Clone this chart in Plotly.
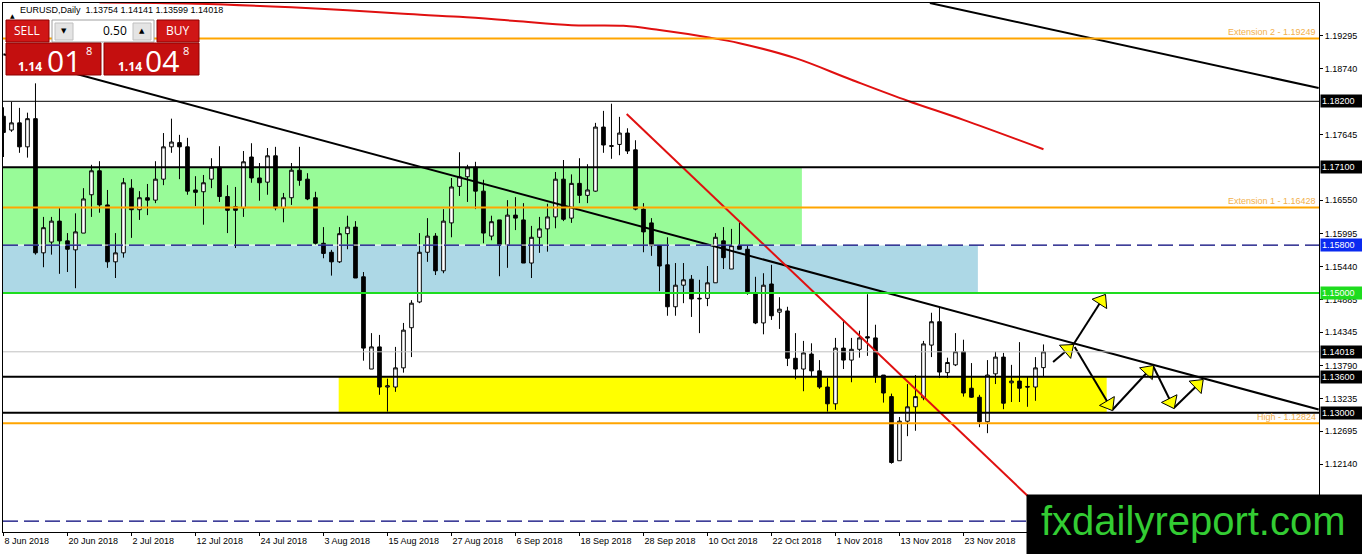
import plotly.graph_objects as go

# EURUSD daily, bar 0 = 8 Jun 2018 ... bar 130 = 7 Dec 2018
opens = [1.1795, 1.1772, 1.1784, 1.1744, 1.1791, 1.1567, 1.1585, 1.1620, 1.1587, 1.1572,
         1.1600, 1.1664, 1.1704, 1.1647, 1.1552, 1.1567, 1.1675, 1.1639, 1.1659, 1.1655,
         1.1690, 1.1744, 1.1751, 1.1744, 1.1672, 1.1669, 1.1690, 1.1710, 1.1661, 1.1644,
         1.1642, 1.1727, 1.1692, 1.1685, 1.1729, 1.1642, 1.1659, 1.1705, 1.1690, 1.1659,
         1.1583, 1.1568, 1.1552, 1.1599, 1.1610, 1.1527, 1.1373, 1.1410, 1.1343, 1.1343,
         1.1375, 1.1442, 1.1485, 1.1568, 1.1595, 1.1537, 1.1617, 1.1678, 1.1694, 1.1710,
         1.1670, 1.1595, 1.1622, 1.1580, 1.1630, 1.1622, 1.1550, 1.1593, 1.1607, 1.1627,
         1.1690, 1.1625, 1.1683, 1.1663, 1.1670, 1.1777, 1.1746, 1.1748, 1.1767, 1.1739,
         1.1640, 1.1617, 1.1579, 1.1547, 1.1477, 1.1513, 1.1523, 1.1490, 1.1491, 1.1517,
         1.1587, 1.1540, 1.1579, 1.1573, 1.1500, 1.1450, 1.1515, 1.1468, 1.1470, 1.1391,
         1.1373, 1.1398, 1.1370, 1.1343, 1.1315, 1.1408, 1.1388, 1.1406, 1.1427, 1.1425,
         1.1363, 1.1327, 1.1220, 1.1286, 1.1310, 1.1325, 1.1413, 1.1452, 1.1367, 1.1380,
         1.1402, 1.1341, 1.1326, 1.1285, 1.1365, 1.1393, 1.1350, 1.1353, 1.1344, 1.1343,
         1.13754]
highs = [1.1810, 1.1819, 1.1809, 1.1801, 1.1850, 1.1627, 1.1627, 1.1642, 1.1600, 1.1633,
         1.1675, 1.1714, 1.1720, 1.1672, 1.1600, 1.1692, 1.1690, 1.1670, 1.1682, 1.1720,
         1.1767, 1.1791, 1.1764, 1.1759, 1.1695, 1.1697, 1.1725, 1.1745, 1.1680, 1.1677,
         1.1737, 1.1750, 1.1717, 1.1742, 1.1744, 1.1667, 1.1717, 1.1744, 1.1700, 1.1669,
         1.1610, 1.1572, 1.1610, 1.1629, 1.1620, 1.1535, 1.1433, 1.1430, 1.1357, 1.1410,
         1.1450, 1.1488, 1.1600, 1.1625, 1.1600, 1.1640, 1.1692, 1.1735, 1.1714, 1.1719,
         1.1689, 1.1629, 1.1622, 1.1655, 1.1660, 1.1650, 1.1612, 1.1627, 1.1649, 1.1702,
         1.1722, 1.1698, 1.1725, 1.1715, 1.1784, 1.1804, 1.1816, 1.1794, 1.1775, 1.1755,
         1.1650, 1.1625, 1.1580, 1.1593, 1.1550, 1.1550, 1.1530, 1.1522, 1.1545, 1.1600,
         1.1610, 1.1607, 1.1618, 1.1579, 1.1527, 1.1533, 1.1547, 1.1493, 1.1477, 1.1433,
         1.1420, 1.1416, 1.1388, 1.1358, 1.1425, 1.1455, 1.1425, 1.1437, 1.1498, 1.1447,
         1.1363, 1.1332, 1.1293, 1.1348, 1.1363, 1.1420, 1.1467, 1.1475, 1.1392, 1.1433,
         1.1422, 1.1383, 1.1330, 1.1388, 1.1402, 1.1400, 1.1380, 1.1418, 1.1360, 1.1393,
         1.14141]
lows = [1.1727, 1.1769, 1.1734, 1.1726, 1.1564, 1.1543, 1.1564, 1.1532, 1.1535, 1.1508,
        1.1600, 1.1627, 1.1634, 1.1542, 1.1525, 1.1559, 1.1592, 1.1622, 1.1630, 1.1650,
        1.1680, 1.1734, 1.1690, 1.1664, 1.1645, 1.1614, 1.1675, 1.1652, 1.1600, 1.1575,
        1.1627, 1.1684, 1.1654, 1.1664, 1.1638, 1.1618, 1.1647, 1.1679, 1.1655, 1.1580,
        1.1558, 1.1529, 1.1550, 1.1573, 1.1525, 1.1387, 1.1373, 1.1330, 1.1302, 1.1335,
        1.1367, 1.1393, 1.1483, 1.1552, 1.1530, 1.1533, 1.1593, 1.1662, 1.1652, 1.1640,
        1.1583, 1.1588, 1.1528, 1.1542, 1.1605, 1.1550, 1.1525, 1.1567, 1.1569, 1.1608,
        1.1620, 1.1617, 1.1650, 1.1650, 1.1669, 1.1734, 1.1724, 1.1730, 1.1732, 1.1638,
        1.1568, 1.1562, 1.1503, 1.1462, 1.1462, 1.1483, 1.1460, 1.1433, 1.1478, 1.1517,
        1.1540, 1.1540, 1.1573, 1.1497, 1.1448, 1.1431, 1.1455, 1.1440, 1.1378, 1.1356,
        1.1336, 1.1360, 1.1340, 1.1302, 1.1305, 1.1373, 1.1351, 1.1392, 1.1395, 1.1350,
        1.1317, 1.1215, 1.1220, 1.1261, 1.1270, 1.1321, 1.1393, 1.1358, 1.1358, 1.1378,
        1.1327, 1.1325, 1.1276, 1.1266, 1.1348, 1.1306, 1.1318, 1.1318, 1.1310, 1.1320,
        1.13599]
closes = [1.1768, 1.1784, 1.1744, 1.1791, 1.1567, 1.1609, 1.1620, 1.1587, 1.1573, 1.1602,
          1.1657, 1.1704, 1.1647, 1.1552, 1.1567, 1.1684, 1.1639, 1.1659, 1.1655, 1.1690,
          1.1744, 1.1752, 1.1744, 1.1670, 1.1668, 1.1684, 1.1710, 1.1661, 1.1638, 1.1638,
          1.1719, 1.1692, 1.1684, 1.1729, 1.1642, 1.1659, 1.1705, 1.1688, 1.1657, 1.1583,
          1.1566, 1.1552, 1.1599, 1.1610, 1.1525, 1.1408, 1.1410, 1.1343, 1.1345, 1.1375,
          1.1438, 1.1483, 1.1568, 1.1595, 1.1537, 1.1620, 1.1677, 1.1694, 1.1709, 1.1670,
          1.1600, 1.1619, 1.1580, 1.1630, 1.1625, 1.1550, 1.1593, 1.1607, 1.1627, 1.1690,
          1.1623, 1.1683, 1.1663, 1.1672, 1.1777, 1.1747, 1.1745, 1.1767, 1.1737, 1.1640,
          1.1602, 1.1579, 1.1545, 1.1477, 1.1513, 1.1522, 1.1490, 1.1491, 1.1517, 1.1593,
          1.1559, 1.1579, 1.1573, 1.1502, 1.1450, 1.1513, 1.1462, 1.1473, 1.1391, 1.1373,
          1.1400, 1.1370, 1.1343, 1.1315, 1.1408, 1.1388, 1.1406, 1.1425, 1.1425, 1.1360,
          1.1333, 1.1217, 1.1286, 1.1310, 1.1327, 1.1415, 1.1452, 1.1368, 1.1384, 1.1402,
          1.1333, 1.1326, 1.1285, 1.1363, 1.1393, 1.1316, 1.1353, 1.1341, 1.1343, 1.1375,
          1.14018]

date_tick_bars = [0, 8, 16, 24, 32, 40, 48, 56, 64, 72, 80, 88, 96, 104, 112, 120]
date_tick_text = ['8 Jun 2018', '20 Jun 2018', '2 Jul 2018', '12 Jul 2018', '24 Jul 2018',
                  '3 Aug 2018', '15 Aug 2018', '27 Aug 2018', '6 Sep 2018', '18 Sep 2018',
                  '28 Sep 2018', '10 Oct 2018', '22 Oct 2018', '1 Nov 2018', '13 Nov 2018',
                  '23 Nov 2018']
price_ticks = [1.19295, 1.18740, 1.17645, 1.16550, 1.15995, 1.15440, 1.14885,
               1.14345, 1.13790, 1.13235, 1.12695, 1.12140, 1.11585]

# moving average (red curve)
ma_bars = [12, 24, 36, 43, 50, 57, 64, 71, 77.5, 82, 88, 92, 99, 106, 113, 120, 130]
ma_values = [1.1985, 1.1983, 1.1977, 1.1972, 1.1966, 1.1961, 1.1954, 1.1947, 1.1946,
             1.1939, 1.1927, 1.1917, 1.1892, 1.1856, 1.1821, 1.1789, 1.1740]

# drawn objects
trend_main_bars, trend_main_prices = [0, 164.4], [1.18985, 1.13055]
trend_top_bars, trend_top_prices = [115.8, 164.4], [1.19841, 1.18422]
trend_red_bars, trend_red_prices = [77.9, 128.3], [1.17988, 1.11577]

zone_green = (-1, 99.8, 1.15800, 1.17100)
zone_blue = (-1, 121.8, 1.15000, 1.15800)
zone_yellow = (41.9, 137.9, 1.13000, 1.13600)

ext2, level_1182, level_1171, ext1 = 1.19249, 1.18200, 1.17100, 1.16428
level_1158, level_115, bid = 1.15800, 1.15000, 1.14018
level_1136, level_113, high_level, level_low = 1.13600, 1.13000, 1.12824, 1.11190

arrow_from = [(131.2, 1.13848), (133.7, 1.14132), (133.9, 1.14099),
              (138.6, 1.13046), (143.7, 1.13781), (146.3, 1.13080)]
arrow_to = [(133.7, 1.14132), (137.7, 1.14966), (138.6, 1.13046),
            (143.7, 1.13781), (146.3, 1.13080), (149.9, 1.13547)]

W, H = 1362, 554
ML, MR, MT, MB = 3, 43, 3, 22
PW, PH = W - ML - MR, H - MT - MB
FONT = 'Liberation Sans'
X_RANGE = [-0.06, 164.44]
Y_RANGE = [1.11010, 1.19841]
PX_PER_BAR = PW / (X_RANGE[1] - X_RANGE[0])
PX_PER_PRICE = PH / (Y_RANGE[1] - Y_RANGE[0])


def px(x, y):
    return (x - ML) / PW, (H - MB - y) / PH


fig = go.Figure()

fig.add_trace(go.Candlestick(
    x=list(range(len(opens))), open=opens, high=highs, low=lows, close=closes,
    increasing=dict(line=dict(color='black', width=1), fillcolor='white'),
    decreasing=dict(line=dict(color='black', width=1), fillcolor='black'),
    whiskerwidth=0, hoverinfo='skip'))

fig.add_trace(go.Scatter(x=ma_bars, y=ma_values, mode='lines',
                         line=dict(color='#E01010', width=2, shape='spline')))
fig.add_trace(go.Scatter(x=trend_main_bars, y=trend_main_prices, mode='lines',
                         line=dict(color='black', width=2)))
fig.add_trace(go.Scatter(x=trend_top_bars, y=trend_top_prices, mode='lines',
                         line=dict(color='black', width=2)))
fig.add_trace(go.Scatter(x=trend_red_bars, y=trend_red_prices, mode='lines',
                         line=dict(color='#E01010', width=2)))

# arrow shafts first, then yellow heads on top
for (x0, y0), (x1, y1) in zip(arrow_from, arrow_to):
    fig.add_trace(go.Scatter(x=[x0, x1], y=[y0, y1], mode='lines', cliponaxis=False,
                             line=dict(color='black', width=2)))

HEAD = 15
for (x0, y0), (x1, y1) in zip(arrow_from, arrow_to):
    seg = (((x1 - x0) * PX_PER_BAR) ** 2 + ((y1 - y0) * PX_PER_PRICE) ** 2) ** 0.5
    t = 1 - (HEAD * 0.45) / seg
    hx_, hy_ = x0 + (x1 - x0) * t, y0 + (y1 - y0) * t
    fig.add_trace(go.Scatter(
        x=[x0, hx_], y=[y0, hy_], mode='markers', cliponaxis=False,
        marker=dict(symbol='triangle-up', size=[1, HEAD], opacity=[0, 1],
                    color='#FFFF00', angleref='previous',
                    line=dict(color='black', width=1))))

shapes = []
for (xa, xb, ya, yb), col in [(zone_green, '#98FB98'), (zone_blue, '#ADD8E6'),
                              (zone_yellow, '#FFFF00')]:
    shapes.append(dict(type='rect', xref='x', yref='y', x0=xa, x1=xb, y0=ya, y1=yb,
                       fillcolor=col, line=dict(width=0), layer='below'))


def hline(y, color, width, dash='solid'):
    shapes.append(dict(type='line', xref='paper', yref='y', x0=0, x1=1, y0=y, y1=y,
                       line=dict(color=color, width=width, dash=dash), layer='above'))


hline(ext2, '#FFA500', 2)
hline(level_1182, 'black', 1)
hline(level_1171, 'black', 2)
hline(ext1, '#FFA500', 2)
hline(level_1158, 'white', 1)
hline(level_1158, '#000078', 1.2, '15px,6px')
hline(level_115, '#1EDC1E', 2)
hline(bid, '#C0C0C0', 1)
hline(level_1136, 'black', 2)
hline(level_113, 'black', 2)
hline(high_level, '#FFA500', 2)
hline(level_low, '#000078', 1.2, '15px,6px')

annotations = []
for txt, lvl in [('Extension 2 - 1.19249', ext2), ('Extension 1 - 1.16428', ext1),
                 ('High - 1.12824', high_level)]:
    annotations.append(dict(xref='paper', yref='y', x=1, y=lvl, xanchor='right',
                            yanchor='bottom', xshift=-1, yshift=-1, text=txt,
                            showarrow=False,
                            font=dict(family=FONT, size=9, color='#F2B04C')))

for lvl, bg in [(level_1182, 'black'), (level_1171, 'black'), (level_1158, '#0A2AF0'),
                (level_115, '#1EDC1E'), (bid, 'black'), (level_1136, 'black'),
                (level_113, 'black')]:
    annotations.append(dict(xref='paper', yref='y', x=1, y=lvl, xanchor='left',
                            yanchor='middle', xshift=1, text='%.5f' % lvl,
                            showarrow=False, bgcolor=bg, borderpad=1, width=40,
                            align='left',
                            font=dict(family=FONT, size=9, color='white')))

# header text
hx, hy = px(18, 10)
annotations.append(dict(xref='paper', yref='paper', x=hx, y=hy, xanchor='left',
                        yanchor='middle', showarrow=False,
                        text='EURUSD,Daily  1.13754 1.14141 1.13599 1.14018',
                        font=dict(family=FONT, size=9, color='black')))
tx, ty = px(8, 10)
annotations.append(dict(xref='paper', yref='paper', x=tx, y=ty, showarrow=False,
                        text='▲', font=dict(family='DejaVu Sans', size=6, color='black')))


# one-click trading panel
def prect(x0, y0, x1, y1, fill, line='#8E0000'):
    a, b = px(x0, y0)
    c, d = px(x1, y1)
    shapes.append(dict(type='rect', xref='paper', yref='paper', x0=a, y0=d, x1=c, y1=b,
                       fillcolor=fill, line=dict(color=line, width=1), layer='above'))


def ptext(x, y, txt, size, color='white', family='Open Sans', anchor='center'):
    a, b = px(x, y)
    annotations.append(dict(xref='paper', yref='paper', x=a, y=b, xanchor=anchor,
                            yanchor='middle', text=txt, showarrow=False,
                            font=dict(family=family, size=size, color=color)))


prect(6, 20, 49, 42, '#D01616')
prect(52, 20, 154, 42, 'white', '#A0A0A0')
prect(55, 23, 73, 40, '#E4E4E4', '#C0C0C0')
prect(133, 23, 151, 40, '#E4E4E4', '#C0C0C0')
prect(157, 20, 199, 42, '#D01616')
prect(6, 43, 101, 75, '#C40F0F')
prect(104, 43, 199, 75, '#C40F0F')
ptext(27, 31, 'SELL', 12)
ptext(178, 31, 'BUY', 12)
ptext(64, 31, '▼', 7, 'black', 'DejaVu Sans')
ptext(142, 31, '▲', 7, 'black', 'DejaVu Sans')
ptext(129, 31, '0.50', 12, 'black', anchor='right')
ptext(30, 66, '<b>1.14</b>', 12)
ptext(64, 60, '01', 30)
ptext(89, 51, '8', 11)
ptext(130, 66, '<b>1.14</b>', 12)
ptext(162, 60, '04', 30)
ptext(186, 51, '8', 11)

# watermark
prect(1027, 495, 1362, 554, 'black', 'black')
ptext(1193, 521, 'fxdailyreport.com', 40, '#33CC33', FONT)

fig.update_layout(
    width=W, height=H, margin=dict(l=ML, r=MR, t=MT, b=MB),
    paper_bgcolor='white', plot_bgcolor='white', showlegend=False,
    hovermode=False, boxgap=0.35, shapes=shapes, annotations=annotations,
    font=dict(family=FONT, size=9, color='black'),
    xaxis=dict(range=X_RANGE, rangeslider=dict(visible=False), showgrid=False,
               zeroline=False, showline=True, linecolor='black', linewidth=1, mirror=True,
               tickvals=date_tick_bars, ticktext=date_tick_text, ticks='outside',
               ticklen=3, tickcolor='black', ticklabelposition='outside right',
               tickfont=dict(family=FONT, size=9, color='black')),
    yaxis=dict(range=Y_RANGE, side='right', showgrid=False, zeroline=False,
               showline=True, linecolor='black', linewidth=1, mirror=True,
               tickvals=price_ticks, ticktext=['%.5f' % v for v in price_ticks],
               ticks='outside', ticklen=3, tickcolor='black',
               tickfont=dict(family=FONT, size=9, color='black')),
)

fig.write_html("out.html", config={'displayModeBar': False},
               post_script="document.body.style.margin='0';")
